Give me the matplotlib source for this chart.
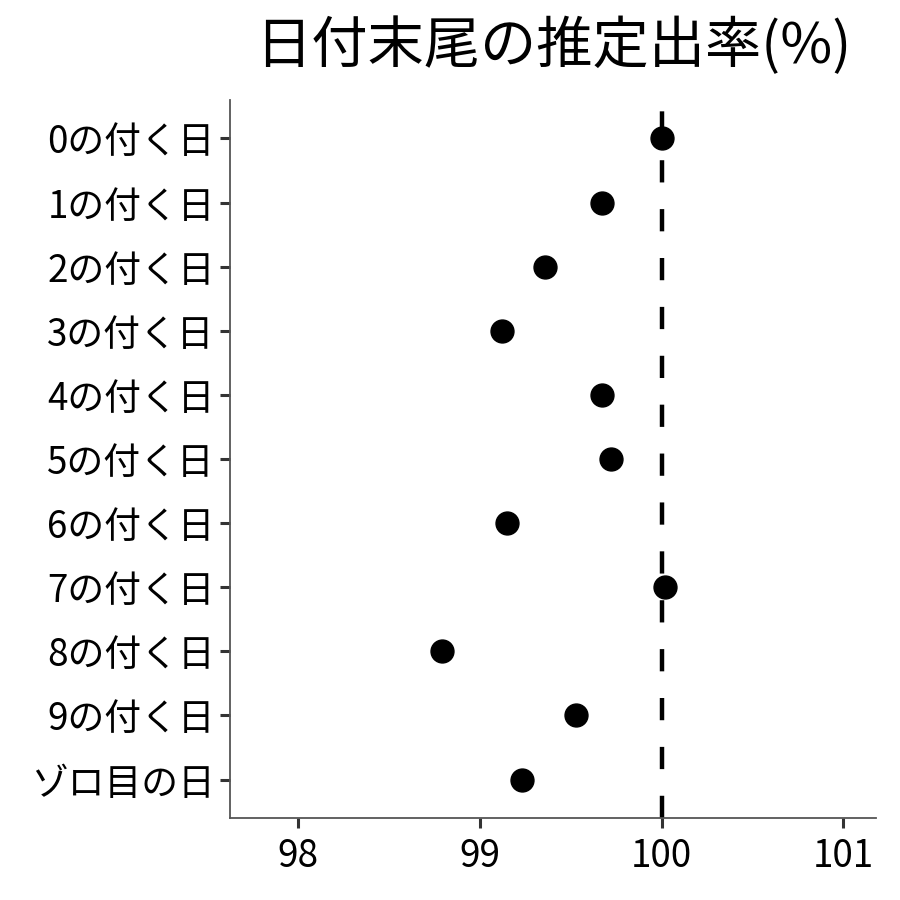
import matplotlib
matplotlib.use("Agg")
import matplotlib.pyplot as plt

plt.rcParams['font.family'] = ['Noto Sans CJK JP', 'DejaVu Sans']

categories = ["0の付く日", "1の付く日", "2の付く日", "3の付く日", "4の付く日",
              "5の付く日", "6の付く日", "7の付く日", "8の付く日", "9の付く日", "ゾロ目の日"]
values = [100.00, 99.67, 99.36, 99.12, 99.67, 99.72, 99.15, 100.02, 98.79, 99.53, 99.23]
xticks = [98, 99, 100, 101]
title = "日付末尾の推定出率(%)"

fig = plt.figure(figsize=(9, 9), dpi=100)
ax = fig.add_axes([0.2556, 0.0911, 0.7178, 0.7978])

ypos = list(range(len(categories)))[::-1]
ax.axvline(100, color="black", lw=3.2, linestyle=(0, (5, 6)), zorder=1)
ax.plot(values, ypos, "o", color="black", markersize=16.5, zorder=3, linestyle="none")

ax.set_yticks(ypos)
ax.set_yticklabels(categories, fontsize=26.5)
ax.set_xticks(xticks)
ax.set_xticklabels([str(t) for t in xticks], fontsize=26.5)
ax.set_xlim(97.626, 101.18)
ax.set_ylim(-0.6, len(categories) - 1 + 0.6)

for s in ["top", "right"]:
    ax.spines[s].set_visible(False)
for s in ["left", "bottom"]:
    ax.spines[s].set_color("#555555")
    ax.spines[s].set_linewidth(1.3)
ax.tick_params(axis="both", length=7, width=2.2, color="#333333", labelcolor="black")
ax.tick_params(axis="x", pad=7)
ax.tick_params(axis="y", pad=4)

fig.text(0.6144, 0.948, title, fontsize=40.5, ha="center", va="center")

fig.savefig("out.png", dpi=100, facecolor="white")
